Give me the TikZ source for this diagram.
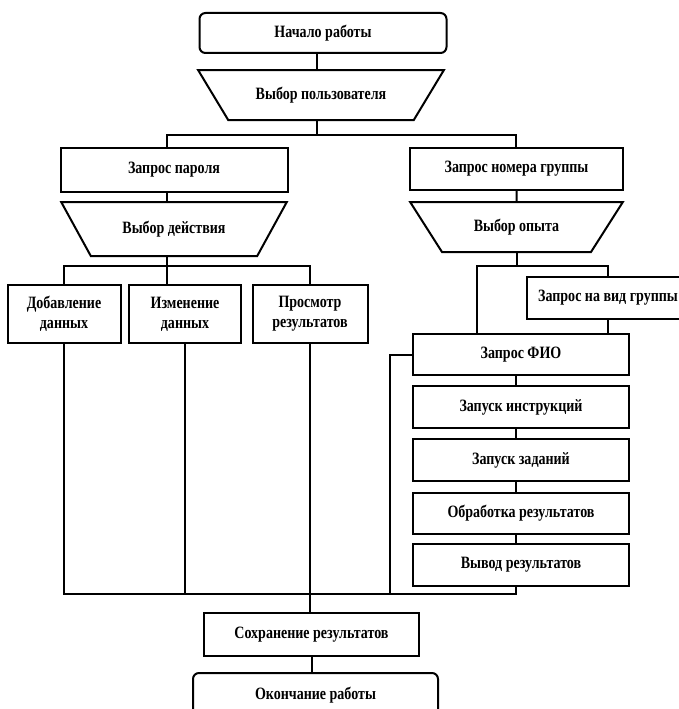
\documentclass[tikz,border=0pt]{standalone}
\usepackage{fontspec}
\setmainfont{Liberation Serif}[FakeStretch=0.81]
\usetikzlibrary{positioning,shapes.geometric}

\tikzset{
  blok/.style={draw, line width=2pt, fill=white, align=center, inner sep=1pt,
    font=\bfseries\fontsize{17.3}{20}\selectfont},
  term/.style={blok, rounded corners=6pt},
  vybor/.style={blok, trapezium, trapezium stretches=true, shape border rotate=180},
  link/.style={line width=2pt},
}

\begin{document}
\begin{tikzpicture}[x=1pt, y=-1pt]
  \useasboundingbox (0,0) rectangle (679,709);

  %% Start and user choice
  \node[term, minimum width=247pt, minimum height=40pt] (start) at (323,33) {Начало работы};
  \node[vybor, trapezium angle=40, minimum width=246pt, minimum height=50pt] (user) at (321,95) {Выбор пользователя};

  %% Bus junctions
  \coordinate (kM) at (317,135);
  \coordinate (kL) at (167,135);
  \coordinate (kR) at (516,135);
  \coordinate (kA) at (167,266);
  \coordinate (kD) at (477,266);
  \coordinate (kE) at (608,266);
  \coordinate (kB) at (390,594);

  %% Left branch
  \node[blok, minimum width=227pt, minimum height=44pt] (pass) at (174,170) {Запрос пароля};
  \node[vybor, trapezium angle=44, minimum width=226pt, minimum height=54pt] (act) at (174,229) {Выбор действия};
  \node[blok, minimum width=113pt, minimum height=58pt] (add) at (64,314) {Добавление\\данных};
  \node[blok, minimum width=112pt, minimum height=58pt] (edit) at (185,314) {Изменение\\данных};
  \node[blok, minimum width=115pt, minimum height=58pt] (view) at (310,314) {Просмотр\\результатов};

  %% Right branch
  \node[blok, minimum width=213pt, minimum height=42pt] (group) at (516.5,169) {Запрос номера группы};
  \node[vybor, trapezium angle=44, minimum width=213pt, minimum height=50pt] (exp) at (516.5,227) {Выбор опыта};
  \node[blok, minimum width=162pt, minimum height=42pt] (vid) at (608,298) {Запрос на вид группы};
  \node[blok, minimum width=216pt, minimum height=41pt] (fio) at (521,354.5) {Запрос ФИО};
  \node[blok, minimum width=216pt, minimum height=42pt] (instr) at (521,407) {Запуск инструкций};
  \node[blok, minimum width=216pt, minimum height=42pt] (task) at (521,460) {Запуск заданий};
  \node[blok, minimum width=216pt, minimum height=41pt] (proc) at (521,513) {Обработка результатов};
  \node[blok, minimum width=216pt, minimum height=42pt] (out) at (521,565) {Вывод результатов};

  %% End
  \node[blok, minimum width=215pt, minimum height=43pt] (save) at (311.5,634.5) {Сохранение результатов};
  \node[term, minimum width=245pt, minimum height=44pt] (stop) at (315.5,695) {Окончание работы};

  %% Connectors
  \draw[link] (start.south -| kM) -- (user.north -| kM);
  \draw[link] (user.south -| kM) -- (kM);
  \draw[link] (pass.north -| kL) -- (kL) -- (kR) -- (group.north -| kR);
  \draw[link] (pass.south -| kL) -- (act.north -| kL);
  \draw[link] (act.south -| kA) -- (edit.north -| kA);
  \draw[link] (add.north) |- (kA) -| (view.north);
  \draw[link] (group.south) -- (exp.north);
  \draw[link] (exp.south) -- (exp.south |- kD);
  \draw[link] (fio.north -| kD) -- (kD) -- (kE) -- (vid.north);
  \draw[link] (vid.south) -- (vid.south |- fio.north);
  \foreach \a/\b in {fio/instr, instr/task, task/proc, proc/out}
    \draw[link] (\a.south -| kR) -- (\b.north -| kR);
  \draw[link] (out.south -| kR) |- (kB) |- (fio.west);
  \draw[link] (add.south) |- (kB);
  \draw[link] (edit.south) -- (edit.south |- kB);
  \draw[link] (view.south) -- (view.south |- save.north);
  \draw[link] (save.south) -- (save.south |- stop.north);
\end{tikzpicture}
\end{document}
